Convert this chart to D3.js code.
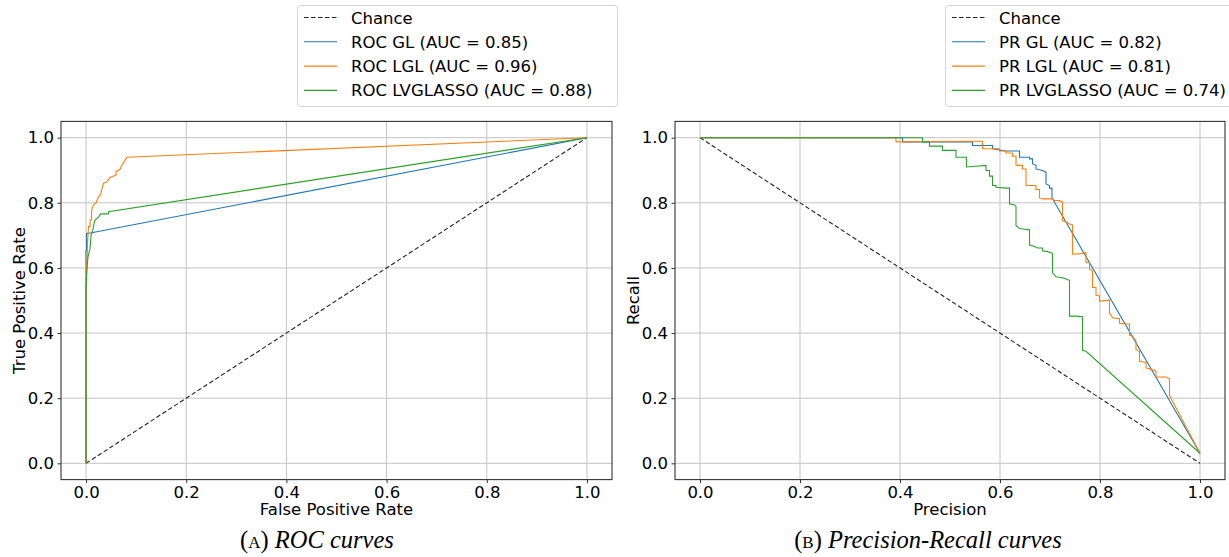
<!DOCTYPE html>
<html>
<head>
<meta charset="utf-8">
<script src="https://cdn.jsdelivr.net/npm/d3@7"></script>
<style>
  html, body { margin: 0; padding: 0; background: #fff; }
  svg { display: block; }
  text { font-family: "DejaVu Sans", sans-serif; fill: #000; }
  .caption { font-family: "Liberation Serif", "DejaVu Serif", serif; }
</style>
</head>
<body>
<svg id="fig" width="1229" height="557"></svg>
<script>
// ---- data ----
const tickValues = [0.0, 0.2, 0.4, 0.6, 0.8, 1.0];
const tickLabels = ["0.0", "0.2", "0.4", "0.6", "0.8", "1.0"];

const seriesColors = ["#1f77b4", "#ff7f0e", "#2ca02c"];

// ROC curves: [false positive rate, true positive rate]
const rocChance = [[0, 0], [1, 1]];
const rocGL = [[0, 0], [0, 0.655], [0.001, 0.655], [0.001, 0.706], [0.011, 0.708], [1, 1]];
const rocLGL = [[0, 0], [0, 0.58], [0.002, 0.62], [0.003, 0.68], [0.005, 0.727], [0.008, 0.727],
  [0.008, 0.747], [0.011, 0.747], [0.011, 0.77], [0.012, 0.783], [0.015, 0.794], [0.02, 0.8],
  [0.025, 0.819], [0.029, 0.824], [0.031, 0.839], [0.035, 0.86], [0.041, 0.864], [0.048, 0.878],
  [0.06, 0.885], [0.06, 0.896], [0.068, 0.903], [0.072, 0.916], [0.078, 0.931], [0.082, 0.94], [1, 1]];
const rocLVGLASSO = [[0, 0], [0, 0.54], [0.0027, 0.614], [0.004, 0.635], [0.008, 0.66], [0.01, 0.70],
  [0.014, 0.72], [0.016, 0.737], [0.018, 0.747], [0.025, 0.756], [0.029, 0.766], [0.045, 0.766],
  [0.045, 0.773], [1, 1]];
const rocLabels = ["Chance", "ROC GL (AUC = 0.85)", "ROC LGL (AUC = 0.96)", "ROC LVGLASSO (AUC = 0.88)"];

// Precision-recall curves: [precision, recall]
const prChance = [[0, 1], [1, 0]];
const prGL = [[0, 1], [0.405, 1.0], [0.405, 0.987], [0.545, 0.987], [0.545, 0.976], [0.585, 0.976],
  [0.585, 0.966], [0.612, 0.959], [0.639, 0.959], [0.639, 0.940], [0.659, 0.940], [0.659, 0.935],
  [0.665, 0.935], [0.665, 0.920], [0.672, 0.915], [0.672, 0.904], [0.685, 0.899], [0.692, 0.894],
  [0.692, 0.858], [0.699, 0.853], [0.699, 0.845], [0.704, 0.845], [0.704, 0.815], [1.0, 0.031]];
const prLGL = [[0, 1], [0.392, 1.0], [0.392, 0.987], [0.545, 0.989], [0.565, 0.989], [0.565, 0.966],
  [0.599, 0.966], [0.599, 0.959], [0.612, 0.959], [0.612, 0.953], [0.625, 0.953], [0.625, 0.943],
  [0.632, 0.943], [0.632, 0.915], [0.645, 0.915], [0.645, 0.904], [0.652, 0.904], [0.652, 0.853],
  [0.672, 0.853], [0.672, 0.841], [0.679, 0.841], [0.679, 0.815], [0.685, 0.812], [0.705, 0.812],
  [0.709, 0.807], [0.719, 0.807], [0.725, 0.802], [0.725, 0.745], [0.732, 0.742], [0.739, 0.735],
  [0.745, 0.732], [0.745, 0.642], [0.762, 0.644], [0.772, 0.647], [0.772, 0.617], [0.779, 0.615],
  [0.779, 0.596], [0.785, 0.591], [0.785, 0.540], [0.792, 0.540], [0.792, 0.516], [0.799, 0.514],
  [0.799, 0.498], [0.819, 0.501], [0.819, 0.462], [0.825, 0.447], [0.839, 0.444], [0.839, 0.430],
  [0.859, 0.427], [0.859, 0.393], [0.865, 0.391], [0.872, 0.375], [0.872, 0.349], [0.879, 0.344],
  [0.879, 0.313], [0.892, 0.310], [0.892, 0.293], [0.899, 0.290], [0.912, 0.283], [0.912, 0.265],
  [0.932, 0.265], [0.939, 0.259], [0.939, 0.208], [1.0, 0.031]];
const prLVGLASSO = [[0, 1], [0.445, 1.0], [0.445, 0.987], [0.459, 0.987], [0.459, 0.974], [0.485, 0.974],
  [0.485, 0.961], [0.512, 0.961], [0.512, 0.940], [0.533, 0.940], [0.533, 0.910], [0.572, 0.915],
  [0.572, 0.899], [0.579, 0.899], [0.579, 0.882], [0.585, 0.882], [0.585, 0.853], [0.592, 0.853],
  [0.592, 0.848], [0.612, 0.845], [0.619, 0.845], [0.619, 0.797], [0.629, 0.793], [0.632, 0.789],
  [0.632, 0.730], [0.639, 0.721], [0.649, 0.719], [0.659, 0.717], [0.659, 0.670], [0.669, 0.666],
  [0.675, 0.661], [0.685, 0.661], [0.685, 0.653], [0.695, 0.650], [0.705, 0.645], [0.705, 0.586],
  [0.712, 0.573], [0.725, 0.570], [0.739, 0.562], [0.739, 0.452], [0.752, 0.452], [0.765, 0.450],
  [0.765, 0.347], [0.772, 0.344], [1.0, 0.031]];
const prLabels = ["Chance", "PR GL (AUC = 0.82)", "PR LGL (AUC = 0.81)", "PR LVGLASSO (AUC = 0.74)"];

const panels = [
  {
    left: 61, right: 612, top: 121.4, bottom: 479.6,
    chance: rocChance, curves: [rocGL, rocLGL, rocLVGLASSO], labels: rocLabels,
    xLabel: "False Positive Rate", yLabel: "True Positive Rate",
    legend: { x: 297, y: 5, w: 320, h: 101 },
    caption: { x: 317, tag: "(a)", text: " ROC curves" }
  },
  {
    left: 675, right: 1225, top: 121.4, bottom: 479.6,
    chance: prChance, curves: [prGL, prLGL, prLVGLASSO], labels: prLabels,
    xLabel: "Precision", yLabel: "Recall",
    legend: { x: 945, y: 5, w: 300, h: 101 },
    caption: { x: 928, tag: "(b)", text: " Precision-Recall curves" }
  }
];

// ---- drawing ----
const svg = d3.select("#fig");
const FS = 16.5;

panels.forEach((p, pi) => {
  const x = d3.scaleLinear().domain([-0.05, 1.05]).range([p.left, p.right]);
  const y = d3.scaleLinear().domain([-0.05, 1.05]).range([p.bottom, p.top]);
  const g = svg.append("g");

  const clipId = "clip" + pi;
  svg.append("clipPath").attr("id", clipId)
    .append("rect").attr("x", p.left).attr("y", p.top)
    .attr("width", p.right - p.left).attr("height", p.bottom - p.top);

  // grid
  const grid = g.append("g").attr("stroke", "#c4c4c4").attr("stroke-width", 1);
  tickValues.forEach(v => {
    grid.append("line").attr("x1", x(v)).attr("x2", x(v)).attr("y1", p.top).attr("y2", p.bottom);
    grid.append("line").attr("x1", p.left).attr("x2", p.right).attr("y1", y(v)).attr("y2", y(v));
  });

  // axes
  const xAxis = d3.axisBottom(x).tickValues(tickValues)
    .tickFormat((d, i) => tickLabels[i]).tickSize(3.5).tickPadding(3.5);
  const yAxis = d3.axisLeft(y).tickValues(tickValues)
    .tickFormat((d, i) => tickLabels[i]).tickSize(3.5).tickPadding(3.5);

  const gx = g.append("g").attr("transform", `translate(0,${p.bottom})`).call(xAxis);
  const gy = g.append("g").attr("transform", `translate(${p.left},0)`).call(yAxis);
  [gx, gy].forEach(a => {
    a.select(".domain").remove();
    a.selectAll(".tick line").attr("stroke", "#333").attr("stroke-width", 1);
    a.selectAll(".tick text").attr("font-family", "DejaVu Sans").attr("font-size", FS).attr("fill", "#000");
  });

  // curves
  const line = d3.line().x(d => x(d[0])).y(d => y(d[1]));
  const plot = g.append("g").attr("clip-path", `url(#${clipId})`).attr("fill", "none");
  plot.append("path").datum(p.chance).attr("d", line)
    .attr("stroke", "#222").attr("stroke-width", 1.1).attr("stroke-dasharray", "4.5,2.5");
  p.curves.forEach((c, i) => {
    plot.append("path").datum(c).attr("d", line)
      .attr("stroke", seriesColors[i]).attr("stroke-width", 1.1).attr("stroke-linejoin", "miter");
  });

  // frame
  g.append("rect").attr("x", p.left).attr("y", p.top)
    .attr("width", p.right - p.left).attr("height", p.bottom - p.top)
    .attr("fill", "none").attr("stroke", "#333").attr("stroke-width", 1.1);

  // axis labels
  g.append("text").attr("x", (p.left + p.right) / 2).attr("y", 515)
    .attr("text-anchor", "middle").attr("font-size", FS).text(p.xLabel);
  g.append("text")
    .attr("transform", `translate(${p.left - 36},${(p.top + p.bottom) / 2}) rotate(-90)`)
    .attr("text-anchor", "middle").attr("font-size", FS).text(p.yLabel);

  // legend
  const L = p.legend;
  const lg = svg.append("g");
  lg.append("rect").attr("x", L.x + 0.5).attr("y", L.y + 0.5).attr("width", L.w).attr("height", L.h)
    .attr("rx", 3).attr("fill", "#fff").attr("fill-opacity", 0.8)
    .attr("stroke", "#d6d6d6").attr("stroke-width", 1);
  p.labels.forEach((lab, i) => {
    const ly = 17.5 + i * 24.3;
    const sx = L.x + 7;
    lg.append("line").attr("x1", sx).attr("x2", sx + 33).attr("y1", ly).attr("y2", ly)
      .attr("stroke", i === 0 ? "#222" : seriesColors[i - 1])
      .attr("stroke-width", 1.1)
      .attr("stroke-dasharray", i === 0 ? "4.5,2.5" : null);
    lg.append("text").attr("x", sx + 47).attr("y", ly + 6).attr("font-size", FS).text(lab);
  });

  // caption
  const cap = svg.append("text").attr("class", "caption")
    .attr("x", p.caption.x).attr("y", 548).attr("text-anchor", "middle").attr("font-size", 24.5)
    .attr("xml:space", "preserve");
  cap.append("tspan").attr("font-variant", "small-caps").text(p.caption.tag);
  cap.append("tspan").attr("font-style", "italic").text(p.caption.text);
});
</script>
</body>
</html>
